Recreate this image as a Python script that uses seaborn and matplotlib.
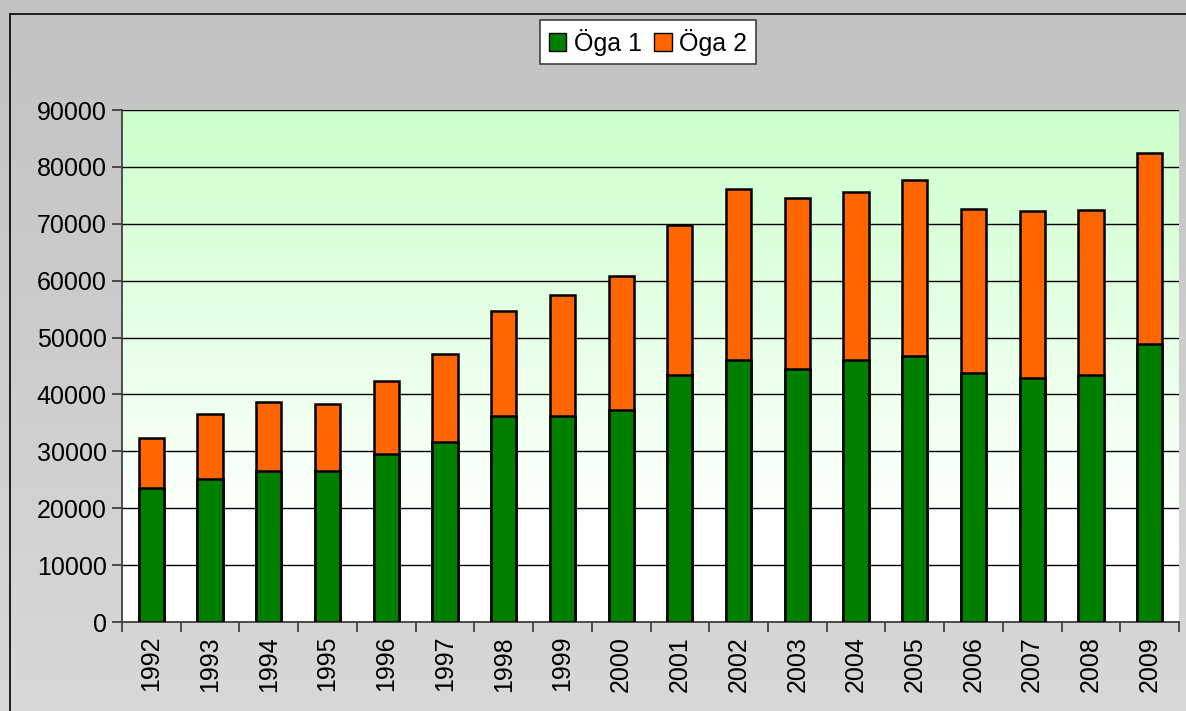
import numpy as np
import pandas as pd
import matplotlib
matplotlib.use('Agg')
import matplotlib.pyplot as plt
import seaborn as sns
from matplotlib.colors import LinearSegmentedColormap
from matplotlib.patches import Patch

# Värden
years = [str(y) for y in range(1992, 2010)]
oga1 = [23500, 25100, 26600, 26600, 29600, 31700, 36200, 36200, 37200,
        43400, 46100, 44400, 46100, 46700, 43700, 42900, 43400, 48800]
oga2 = [8900, 11400, 12000, 11700, 12700, 15400, 18500, 21200, 23700,
        26300, 30100, 30100, 29500, 31000, 28900, 29300, 29100, 33700]

green = '#007F00'
orange = '#FF6600'

df = pd.DataFrame({'year': years, 'oga1': oga1, 'oga2': oga2})
df['total'] = df['oga1'] + df['oga2']

sns.set_theme(style='white')
plt.rcParams['font.family'] = ['Liberation Sans', 'DejaVu Sans']
plt.rcParams['text.color'] = 'black'
plt.rcParams['xtick.color'] = 'black'
plt.rcParams['ytick.color'] = 'black'

fig = plt.figure(figsize=(11.86, 7.11), dpi=100)

# grå bakgrund med svag gradient
bg = fig.add_axes([0, 0, 1, 1], zorder=-10)
grad = np.linspace(0, 1, 256).reshape(-1, 1)
bg.imshow(grad, aspect='auto', extent=[0, 1, 0, 1], origin='lower',
          cmap=LinearSegmentedColormap.from_list('g', ['#D8D8D8', '#C2C2C2']))
bg.plot([0.0085, 0.0085], [0, 0.98], color='black', lw=1.2)
bg.plot([0.0085, 1], [0.98, 0.98], color='black', lw=1.2)
bg.set_xlim(0, 1)
bg.set_ylim(0, 1)
bg.axis('off')

ax = fig.add_axes([122 / 1186, 1 - 622 / 711, (1179 - 122) / 1186, (622 - 110) / 711])

# ljusgrön gradient i ritytan
ax.imshow(np.linspace(0, 1, 256).reshape(-1, 1), aspect='auto',
          extent=[-0.5, len(years) - 0.5, 0, 90000], origin='lower', zorder=0,
          cmap=LinearSegmentedColormap.from_list(
              'p', [(0, '#FFFFFF'), (0.17, '#FFFFFF'), (1, '#CCFFCC')]))

sns.barplot(data=df, x='year', y='total', color=orange, saturation=1, width=0.43,
            edgecolor='black', linewidth=1.8, ax=ax, zorder=3)
sns.barplot(data=df, x='year', y='oga1', color=green, saturation=1, width=0.43,
            edgecolor='black', linewidth=1.8, ax=ax, zorder=4)

ax.set_xlim(-0.5, len(years) - 0.5)
ax.set_ylim(0, 90000)
ax.set_yticks(range(0, 90001, 10000))
ax.yaxis.grid(True, color='black', lw=1)
for gl in ax.get_ygridlines():
    gl.set_zorder(1)
ax.set_xlabel('')
ax.set_ylabel('')

ax.set_xticks(np.arange(len(years)))
ax.set_xticklabels(years, rotation=90, fontsize=18)
ax.tick_params(axis='x', which='major', bottom=False, length=0, pad=10)
ax.set_xticks(np.arange(len(years) + 1) - 0.5, minor=True)
ax.tick_params(axis='x', which='minor', bottom=True, length=7, color='#404040',
               width=1.3, direction='out')
ax.tick_params(axis='y', left=True, labelsize=18, length=7, color='#404040',
               width=1.3, direction='out', pad=4)

for s in ['top', 'right']:
    ax.spines[s].set_visible(False)
for s in ['left', 'bottom']:
    ax.spines[s].set_color('#404040')
    ax.spines[s].set_linewidth(1.3)

handles = [Patch(facecolor=green, edgecolor='black', label='Öga 1'),
           Patch(facecolor=orange, edgecolor='black', label='Öga 2')]
leg = fig.legend(handles=handles, loc='center', bbox_to_anchor=(648 / 1186, 1 - 42 / 711),
                 ncol=2, fontsize=18, frameon=True, fancybox=False, framealpha=1,
                 handlelength=0.7, handleheight=0.7, handletextpad=0.3,
                 columnspacing=0.5, borderpad=0.35, borderaxespad=0)
leg.get_frame().set_edgecolor('#404040')
leg.get_frame().set_facecolor('white')
leg.get_frame().set_linewidth(1.2)

fig.savefig('out.png', dpi=100)
